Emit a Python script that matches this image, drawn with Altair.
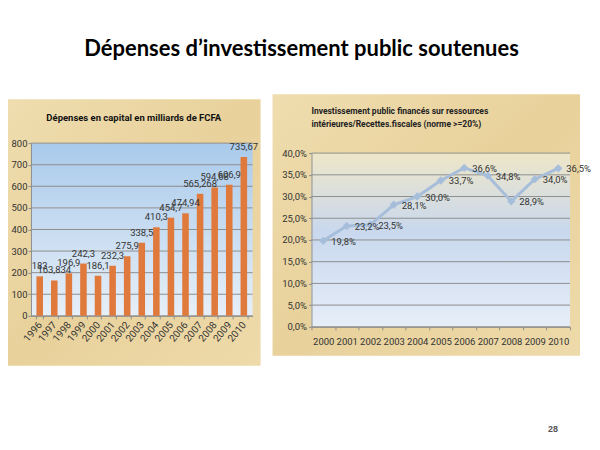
import altair as alt
import pandas as pd

# ---------------- data ----------------
years_capital = ["1996", "1997", "1998", "1999", "2000", "2001", "2002", "2003",
                 "2004", "2005", "2006", "2007", "2008", "2009", "2010"]
capital = [183, 163.834, 196.9, 242.3, 186.1, 232.3, 275.9, 338.5,
           410.3, 454.7, 474.94, 565.268, 594.68, 606.9, 735.67]
capital_labels = ["183", "163,834", "196,9", "242,3", "186,1", "232,3", "275,9", "338,5",
                  "410,3", "454,7", "474,94", "565,268", "594,68", "606,9", "735,67"]
capital_ticks = [0, 100, 200, 300, 400, 500, 600, 700, 800]

years_ratio = ["2000", "2001", "2002", "2003", "2004", "2005",
               "2006", "2007", "2008", "2009", "2010"]
ratio = [19.8, 23.2, 23.5, 28.1, 30.0, 33.7, 36.6, 34.8, 28.9, 34.0, 36.5]
ratio_labels = ["19,8%", "23,2%", "23,5%", "28,1%", "30,0%", "33,7%",
                "36,6%", "34,8%", "28,9%", "34,0%", "36,5%"]
ratio_ticks = [0, 5, 10, 15, 20, 25, 30, 35, 40]

main_title = "Dépenses d’investissement public soutenues"
left_title = "Dépenses en capital en milliards de FCFA"
right_title = ["Investissement public financés sur ressources",
               "intérieures/Recettes.fiscales (norme >=20%)"]
page_number = "28"

# ---------------- styles ----------------
NARROW = "Roboto, Liberation Sans, sans-serif"
TXT = "#333333"
GRID = "#8f8f8f"

parchment = alt.LinearGradient(
    gradient="linear", x1=0, y1=0, x2=1, y2=1,
    stops=[alt.GradientStop(color="#EFDDAF", offset=0),
           alt.GradientStop(color="#E8D19B", offset=0.5),
           alt.GradientStop(color="#EEDAAA", offset=1)])
left_bg = alt.LinearGradient(
    gradient="linear", x1=0, y1=0, x2=0, y2=1,
    stops=[alt.GradientStop(color="#A9CAEB", offset=0),
           alt.GradientStop(color="#E7EFF8", offset=1)])
right_bg = alt.LinearGradient(
    gradient="linear", x1=0, y1=0, x2=0, y2=1,
    stops=[alt.GradientStop(color="#EEE6C8", offset=0),
           alt.GradientStop(color="#C9D8EE", offset=0.45),
           alt.GradientStop(color="#E6EEF8", offset=1)])

one = pd.DataFrame({"k": [0]})

# ---------------- left panel ----------------
W1, H1 = 222, 173
cap_df = pd.DataFrame({"year": years_capital, "value": capital, "label": capital_labels})
cap_grid = pd.DataFrame({"value": capital_ticks})

y1_scale = alt.Scale(domain=[0, 800], nice=False)
y1_axis = alt.Axis(title=None, values=capital_ticks, grid=False, zindex=1,
                   labelFont=NARROW, labelFontSize=9.5, labelColor=TXT,
                   domainColor=GRID, tickColor=GRID, tickSize=3, labelPadding=1)
x1 = alt.X("year:O", sort=years_capital,
           scale=alt.Scale(type="band", paddingInner=0.55, paddingOuter=0.375),
           axis=alt.Axis(title=None, labelAngle=310, grid=False, zindex=1,
                         labelFont=NARROW, labelFontSize=10, labelColor=TXT,
                         domainColor=GRID, tickColor=GRID, tickSize=3,
                         tickBand="extent", labelPadding=4))

paper1 = alt.Chart(one).mark_rect(color=parchment).encode(
    x=alt.value(-23), x2=alt.value(230), y=alt.value(-44), y2=alt.value(223))
plotbg1 = alt.Chart(one).mark_rect(color=left_bg).encode(
    x=alt.value(0), x2=alt.value(W1), y=alt.value(0), y2=alt.value(H1))
grid1 = alt.Chart(cap_grid).mark_rule(color=GRID, strokeWidth=1).encode(
    y=alt.Y("value:Q", scale=y1_scale, axis=y1_axis))
bars = alt.Chart(cap_df).mark_bar(color="#E07A3C").encode(
    x=x1, y=alt.Y("value:Q", scale=y1_scale, axis=y1_axis))
labels1 = alt.Chart(cap_df).mark_text(
    font=NARROW, fontSize=9.5, color=TXT, baseline="bottom", dy=-5).encode(
    x=x1, y=alt.Y("value:Q", scale=y1_scale, axis=y1_axis), text="label:N")
title1 = alt.Chart(one).mark_text(
    text=left_title, font=NARROW, fontSize=9.5, fontWeight="bold", color="#111111",
    baseline="middle", align="center").encode(
    x=alt.value(103), y=alt.value(-25))

left = alt.layer(paper1, plotbg1, grid1, bars, labels1, title1).properties(
    width=W1, height=H1)

# ---------------- right panel ----------------
OFF = 10          # plot area of the right panel sits a little lower
W2, H2 = 259, 174 + OFF
rat_df = pd.DataFrame({"year": years_ratio, "value": ratio, "label": ratio_labels})
rat_grid = pd.DataFrame({"value": ratio_ticks})

y2_scale = alt.Scale(domain=[0, 40], nice=False, range=[H2, OFF])
y2_axis = alt.Axis(title=None, values=ratio_ticks, grid=False, zindex=1,
                   labelExpr="replace(format(datum.value, '.1f'), '.', ',') + '%'",
                   labelFont=NARROW, labelFontSize=9.5, labelColor=TXT,
                   domainColor=GRID, tickColor=GRID, tickSize=3, labelPadding=2)
x2 = alt.X("year:O", sort=years_ratio,
           scale=alt.Scale(type="band", paddingInner=0, paddingOuter=0),
           axis=alt.Axis(title=None, labelAngle=0, grid=False, zindex=1,
                         labelFont=NARROW, labelFontSize=9.5, labelColor=TXT,
                         domainColor=GRID, tickColor=GRID, tickSize=3,
                         tickBand="extent", labelPadding=7))

paper2 = alt.Chart(one).mark_rect(color=parchment).encode(
    x=alt.value(-39), x2=alt.value(269), y=alt.value(-49), y2=alt.value(213))
plotbg2 = alt.Chart(one).mark_rect(color=right_bg).encode(
    x=alt.value(0), x2=alt.value(W2), y=alt.value(OFF), y2=alt.value(H2))
grid2 = alt.Chart(rat_grid).mark_rule(color=GRID, strokeWidth=1).encode(
    y=alt.Y("value:Q", scale=y2_scale, axis=y2_axis))
line = alt.Chart(rat_df).mark_line(color="#A7BEDB", strokeWidth=3).encode(
    x=x2, y=alt.Y("value:Q", scale=y2_scale, axis=y2_axis))
pts = alt.Chart(rat_df).mark_point(shape="diamond", filled=True, size=70,
                                   color="#A7BEDB", opacity=1).encode(
    x=x2, y=alt.Y("value:Q", scale=y2_scale, axis=y2_axis))
labels2 = alt.Chart(rat_df).mark_text(
    font=NARROW, fontSize=9.5, color=TXT, align="left", baseline="middle",
    dx=8, dy=1).encode(
    x=x2, y=alt.Y("value:Q", scale=y2_scale, axis=y2_axis), text="label:N")
title2 = alt.Chart(one).mark_text(
    text=right_title, font=NARROW, fontSize=8.5, fontWeight="bold", color="#222222",
    align="left", baseline="middle", lineHeight=13).encode(
    x=alt.value(0), y=alt.value(-32))
pagenum = alt.Chart(one).mark_text(
    text=page_number, font="Liberation Sans", fontSize=9, fontWeight="bold",
    color="#555555", align="center", baseline="middle").encode(
    x=alt.value(242), y=alt.value(286))

right = alt.layer(paper2, plotbg2, grid2, line, pts, labels2, title2, pagenum).properties(
    width=W2, height=H2)

# ---------------- assemble ----------------
chart = alt.hconcat(left, right, spacing=12).properties(
    title=alt.TitleParams(text=main_title, font="Lato", fontSize=22, fontWeight="bold",
                          color="#000000", anchor="middle", offset=33, dx=2),
    padding={"left": 0, "top": 30, "right": 0, "bottom": 0},
    background="#ffffff",
).configure_view(stroke=None)

chart.save("out.html", embed_options={"renderer": "svg", "actions": False})
